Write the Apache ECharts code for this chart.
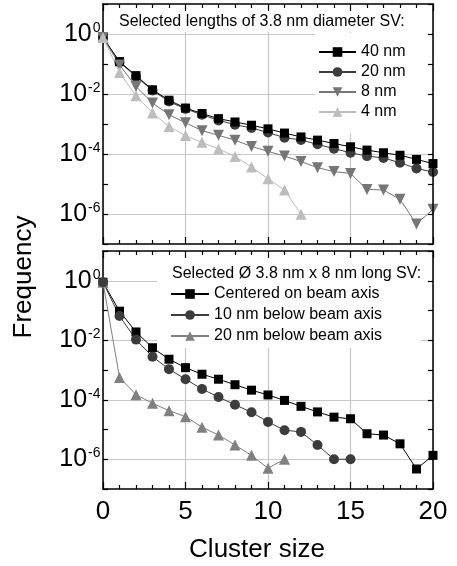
<!DOCTYPE html>
<html><head><meta charset="utf-8">
<script src="https://cdn.jsdelivr.net/npm/echarts@6/dist/echarts.min.js"></script>
<style>html,body{margin:0;padding:0;background:#fff}#c{width:457px;height:566px}</style>
</head><body><div id="c"></div>
<script>
// ---- data ----
const clusterSizes = [0,1,2,3,4,5,6,7,8,9,10,11,12,13,14,15,16,17,18,19,20];
const xTickLabels = ['0','5','10','15','20'];
const topTitle = 'Selected lengths of 3.8 nm diameter SV:';
const bottomTitle = 'Selected \u00d8 3.8 nm x 8 nm long SV:';
const topNames = ['40 nm','20 nm','8 nm','4 nm'];
const bottomNames = ['Centered on beam axis','10 nm below beam axis','20 nm below beam axis'];
const len40 = [0.76,0.12,0.041,0.0138,0.0062,0.0034,0.00224,0.00151,0.00117,9.1e-4,6.9e-4,5.0e-4,3.7e-4,2.9e-4,2.24e-4,1.74e-4,1.35e-4,1.10e-4,9.1e-5,6.6e-5,4.8e-5];
const len20 = [0.76,0.115,0.038,0.0132,0.0056,0.0032,0.00204,0.00132,9.5e-4,7.4e-4,5.2e-4,3.5e-4,2.95e-4,2.1e-4,1.51e-4,1.10e-4,8.5e-5,7.4e-5,5.1e-5,3.3e-5,2.5e-5];
const len8 = [0.76,0.093,0.0178,0.0050,0.00204,0.0011,6.0e-4,4.2e-4,2.9e-4,1.78e-4,1.23e-4,8.5e-5,5.6e-5,3.5e-5,2.6e-5,2.24e-5,6.6e-6,6.3e-6,3.1e-6,4.6e-7,1.45e-6];
const len4 = [0.76,0.052,0.0087,0.00234,8.3e-4,4.1e-4,2.45e-4,1.48e-4,8.3e-5,3.7e-5,1.5e-5,6.3e-6,9.8e-7];
const centered = [0.89,0.095,0.019,0.0056,0.0023,0.0012,7.2e-4,4.9e-4,3.2e-4,2.1e-4,1.45e-4,9.5e-5,6.0e-5,3.9e-5,2.6e-5,2.3e-5,7.2e-6,6.5e-6,3.3e-6,4.7e-7,1.35e-6];
const below10 = [0.89,0.065,0.0105,0.0028,0.00107,4.9e-4,2.3e-4,1.23e-4,6.8e-5,3.8e-5,1.8e-5,9.5e-6,8.3e-6,3.0e-6,1.0e-6,1.0e-6];
const below20 = [0.89,5.6e-4,1.48e-4,7.6e-5,4.3e-5,2.7e-5,1.2e-5,6.5e-6,3.0e-6,1.35e-6,5.0e-7,1.0e-6];

// ---- chart ----
const FONT = 'Liberation Sans, Arial, Helvetica, sans-serif';
const pairs = arr => arr.map((v, i) => [clusterSizes[i], v]);
const grids = [
  {left: 103, right: 24, top: 4, height: 240},
  {left: 103, right: 24, top: 251, height: 240}
];
const axLine = {show: true, onZero: false, lineStyle: {color: '#000', width: 1.5}};
function xAx(gi, pos, labels) {
  return {
    type: 'value', gridIndex: gi, position: pos, min: 0, max: 20, interval: 5,
    z: pos === 'top' ? 10 : 0,
    axisLine: axLine,
    axisTick: {show: true, inside: true, length: 7, lineStyle: {color: '#000', width: 1.2}},
    minorTick: {show: true, splitNumber: 5, length: 4, lineStyle: {color: '#000', width: 1.2}},
    axisLabel: labels ? {show: true, margin: 10, fontSize: 26, color: '#000', fontFamily: FONT,
      formatter: v => xTickLabels[xTickLabels.indexOf(String(v))] || ''} : {show: false},
    splitLine: {show: pos === 'bottom', lineStyle: {color: '#c8c8c8', width: 1.2}},
    minorSplitLine: {show: false}
  };
}
function yAx(gi, pos) {
  return {
    type: 'log', logBase: 10, gridIndex: gi, position: pos, min: 1e-7, max: 10, splitNumber: 8,
    z: pos === 'right' ? 10 : 0,
    axisLine: axLine,
    axisTick: {show: true, inside: true, length: 5, lineStyle: {color: '#000', width: 1.2}},
    axisLabel: pos === 'left' ? {
      show: true, margin: -4, padding: [0, 6.5, 0, 0], color: '#000', fontFamily: FONT,
      formatter: function (v) {
        const e = Math.round(Math.log10(v));
        if (e % 2 !== 0) return '';
        return '{b|10}{s|' + e + '}';
      },
      rich: {
        b: {fontSize: 25, fontFamily: FONT, color: '#000', lineHeight: 26},
        s: {fontSize: 14, fontFamily: FONT, color: '#000', verticalAlign: 'top', lineHeight: 14, padding: [0, 0, 16, 1]}
      }
    } : {show: false},
    splitLine: {show: pos === 'left', lineStyle: {color: ['transparent', '#c8c8c8'], width: 1.2}}
  };
}
function ser(name, arr, gi, symbol, rot, color, size) {
  return {
    name: name, type: 'line', xAxisIndex: gi * 2, yAxisIndex: gi * 2,
    data: pairs(arr), symbol: symbol, symbolRotate: rot, symbolSize: size,
    showSymbol: true, showAllSymbol: true,
    lineStyle: {color: color, width: 1}, itemStyle: {color: color},
    animation: false
  };
}
const option = {
  backgroundColor: '#fff',
  animation: false,
  grid: grids,
  xAxis: [xAx(0, 'bottom', false), xAx(0, 'top', false),
          Object.assign(xAx(1, 'bottom', true), {name: 'Cluster size', nameLocation: 'middle', nameGap: 46,
            nameTextStyle: {fontSize: 26, color: '#000', fontFamily: FONT, lineHeight: 30, padding: [0, 22, 0, 0]}}),
          xAx(1, 'top', false)],
  yAxis: [yAx(0, 'left'), yAx(0, 'right'), yAx(1, 'left'), yAx(1, 'right')],
  title: [
    {text: topTitle, left: 104, top: 8, padding: [5, 14, 1, 15], backgroundColor: '#fff', z: 6,
     textStyle: {fontSize: 16, fontWeight: 'normal', color: '#000', fontFamily: FONT, lineHeight: 18}},
    {text: bottomTitle, left: 157, top: 252, padding: [13, 6, 2, 15], backgroundColor: '#fff', z: 6,
     textStyle: {fontSize: 16, fontWeight: 'normal', color: '#000', fontFamily: FONT, lineHeight: 18}}
  ],
  legend: [
    {data: topNames, orient: 'vertical', left: 315, top: 33, padding: [10, 22, 12, 3],
     backgroundColor: '#fff', itemWidth: 37, itemHeight: 12, itemGap: 2, align: 'left',
     textStyle: {fontSize: 16, color: '#000', fontFamily: FONT, lineHeight: 18}},
    {data: bottomNames, orient: 'vertical', left: 157, top: 284, padding: [1, 39, 3, 13],
     backgroundColor: '#fff', itemWidth: 38, itemHeight: 12, itemGap: 3, align: 'left',
     textStyle: {fontSize: 16, color: '#000', fontFamily: FONT, lineHeight: 18}}
  ],
  graphic: [
    {type: 'text', x: 24, y: 277, rotation: Math.PI / 2,
     style: {text: 'Frequency', fontSize: 26, fontFamily: FONT, fill: '#000', textAlign: 'center', textVerticalAlign: 'middle'}}
  ],
  series: [
    ser(topNames[1], len20, 0, 'circle', 0, '#3c3c3c', 10),
    ser(topNames[0], len40, 0, 'rect', 0, '#000000', 9),
    ser(topNames[2], len8, 0, 'triangle', 180, '#767676', 11),
    ser(topNames[3], len4, 0, 'triangle', 0, '#bdbdbd', 11),
    ser(bottomNames[0], centered, 1, 'rect', 0, '#000000', 9),
    ser(bottomNames[2], below20, 1, 'triangle', 0, '#808080', 11),
    ser(bottomNames[1], below10, 1, 'circle', 0, '#3c3c3c', 10)
  ]
};
const chart = echarts.init(document.getElementById('c'), null, {renderer: 'canvas'});
chart.setOption(option);
</script>
</body></html>
